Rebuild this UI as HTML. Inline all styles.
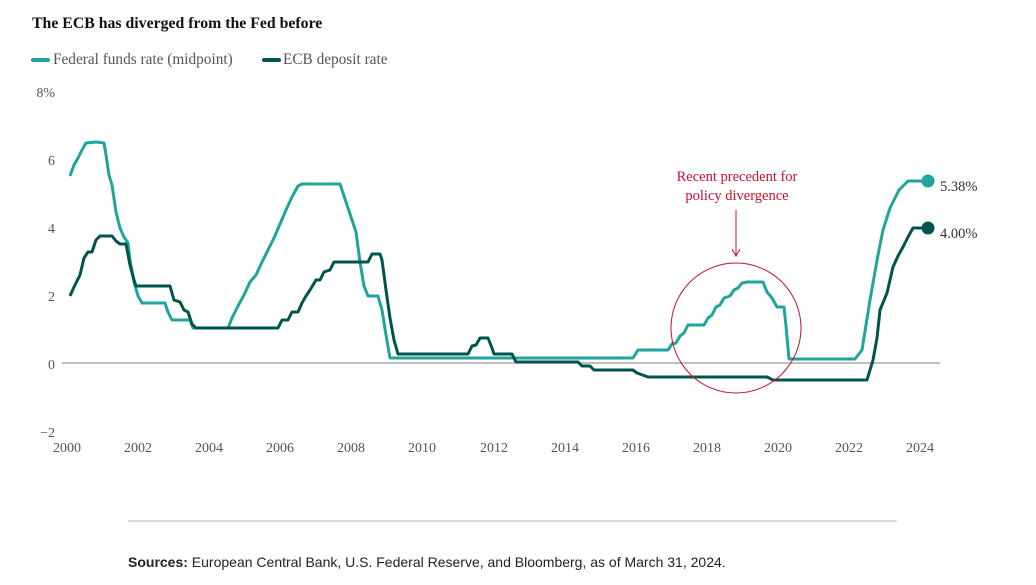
<!DOCTYPE html>
<html><head><style>
body{margin:0;background:#fff;width:1036px;height:585px;overflow:hidden}
svg{display:block}
</style></head><body>
<svg width="1036" height="585" xmlns="http://www.w3.org/2000/svg" font-family="Liberation Serif, serif">
<text x="32" y="28" font-size="15.8" font-weight="bold" fill="#111">The ECB has diverged from the Fed before</text>
<line x1="33" y1="60" x2="48" y2="60" stroke="#1fa59b" stroke-width="4" stroke-linecap="round"/>
<text x="53" y="64" font-size="15.3" fill="#555">Federal funds rate (midpoint)</text>
<line x1="264" y1="60" x2="279" y2="60" stroke="#00544e" stroke-width="4" stroke-linecap="round"/>
<text x="283" y="64" font-size="15.3" fill="#555">ECB deposit rate</text>
<g font-size="14" fill="#555" text-anchor="end">
<text x="55" y="97">8%</text><text x="55" y="165">6</text><text x="55" y="233">4</text><text x="55" y="301">2</text><text x="55" y="369">0</text><text x="55" y="437">−2</text>
</g>
<g font-size="14" fill="#555" text-anchor="middle">
<text x="67" y="452">2000</text><text x="138" y="452">2002</text><text x="209" y="452">2004</text><text x="280" y="452">2006</text><text x="351" y="452">2008</text><text x="422" y="452">2010</text><text x="494" y="452">2012</text><text x="565" y="452">2014</text><text x="636" y="452">2016</text><text x="707" y="452">2018</text><text x="778" y="452">2020</text><text x="849" y="452">2022</text><text x="920" y="452">2024</text>
</g>
<line x1="62" y1="363" x2="940" y2="363" stroke="#999" stroke-width="1.2"/>
<polyline fill="none" stroke="#1fa59b" stroke-width="3" stroke-linejoin="round" points="70,176 74,165 78,158 82,150 86,143 96,142 104,143 106,155 109,175 112,185 116,212 120,228 124,237 128,243 130,260 134,282 138,296 142,303 165,303 168,312 172,320 190,320 193,328 228,328 232,318 238,306 244,295 250,282 256,275 262,262 268,250 274,238 280,224 286,210 292,197 298,186 302,184 340,184 344,196 348,208 352,220 356,232 360,262 364,286 368,296 378,296 382,310 386,335 390,358 633,358 638,350 668,350 672,344 676,343 680,336 684,333 688,325 704,325 708,318 712,315 716,307 720,305 724,298 730,296 734,290 738,288 742,283 747,282 763,282 767,292 772,298 777,307 784,307 786,326 789,359 855,359 862,350 866,325 870,300 873,283 878,255 883,230 890,208 896,196 899,190 903,186 908,181 928,181"/>
<polyline fill="none" stroke="#00544e" stroke-width="3" stroke-linejoin="round" points="70,296 74,287 80,275 84,258 88,252 92,252 96,240 100,236 112,236 116,241 120,244 126,244 130,265 134,280 136,286 170,286 174,300 180,302 184,310 188,312 192,324 196,328 278,328 282,320 288,320 292,312 298,312 302,303 306,296 310,290 316,280 320,280 324,272 330,270 334,262 368,262 372,254 380,254 382,260 386,290 390,318 394,340 398,354 468,354 472,346 476,345 480,338 488,338 492,348 494,354 512,354 516,362 578,362 582,366 590,366 594,370 633,370 637,373 648,377 767,377 773,380 867,380 873,360 877,338 880,310 887,293 893,267 898,256 903,247 908,237 913,228 928,228"/>
<circle cx="928" cy="181" r="6.5" fill="#1fa59b"/>
<circle cx="928" cy="228" r="6.5" fill="#00544e"/>
<text x="940" y="191" font-size="14.5" fill="#333">5.38%</text>
<text x="940" y="238" font-size="14.5" fill="#333">4.00%</text>
<g fill="#c8102e" font-size="14.5" text-anchor="middle">
<text x="737" y="181">Recent precedent for</text>
<text x="737" y="200">policy divergence</text>
</g>
<line x1="736" y1="210" x2="736" y2="255" stroke="#c8102e" stroke-width="1"/>
<polyline points="732,249 736,256 740,249" fill="none" stroke="#c8102e" stroke-width="1"/>
<circle cx="736" cy="328" r="65" fill="none" stroke="#c8102e" stroke-width="1"/>
<line x1="128" y1="521" x2="897" y2="521" stroke="#bbb" stroke-width="1"/>
<text x="128" y="567" font-family="Liberation Sans, sans-serif" font-size="14" fill="#222"><tspan font-weight="bold">Sources:</tspan> European Central Bank, U.S. Federal Reserve, and Bloomberg, as of March 31, 2024.</text>
</svg>
</body></html>
